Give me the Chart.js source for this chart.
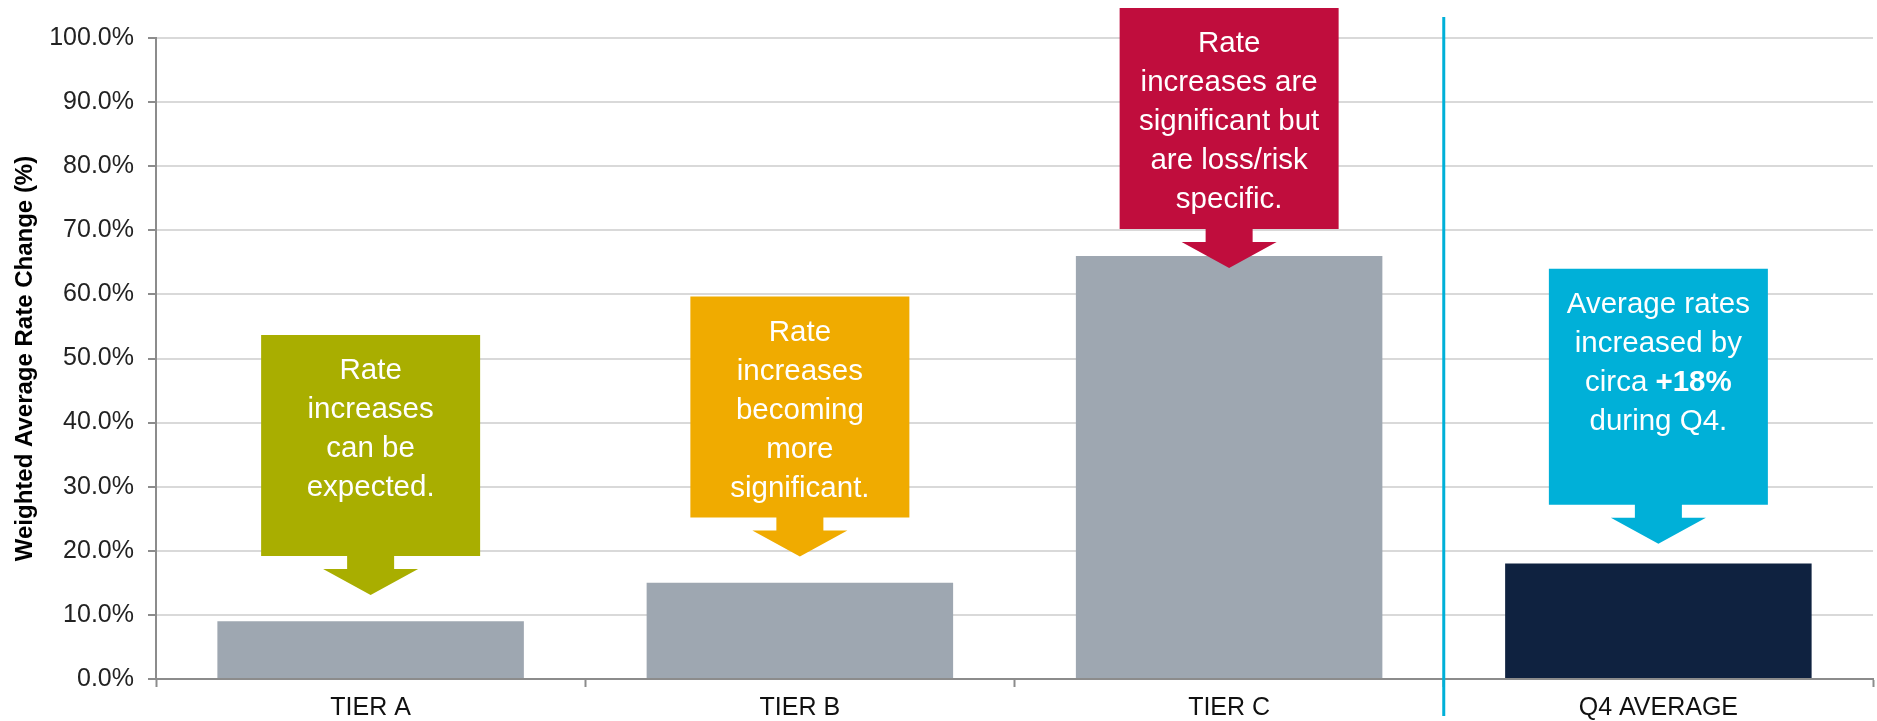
<!DOCTYPE html>
<html>
<head>
<meta charset="utf-8">
<script src="https://cdn.jsdelivr.net/npm/chart.js@4/dist/chart.umd.min.js"></script>
<style>
  html, body { margin: 0; padding: 0; background: #fff; }
  canvas { display: block; }
</style>
</head>
<body>
<canvas id="chart" width="1877" height="721"></canvas>
<script>
// Categories and weighted average rate change (%) per tier
const categories = ['TIER A', 'TIER B', 'TIER C', 'Q4 AVERAGE'];
const rateChange = [9, 15, 66, 18];
const barColors = ['#9ea7b1', '#9ea7b1', '#9ea7b1', '#0f2240'];

// Y axis range (percent)
const yMin = 0;
const yMax = 100;
const yStep = 10;

// Callout texts (one list of lines per category; each line is a list of segments)
const calloutLines = [
  [[{ t: 'Rate' }], [{ t: 'increases' }], [{ t: 'can be' }], [{ t: 'expected.' }]],
  [[{ t: 'Rate' }], [{ t: 'increases' }], [{ t: 'becoming' }], [{ t: 'more' }], [{ t: 'significant.' }]],
  [[{ t: 'Rate' }], [{ t: 'increases are' }], [{ t: 'significant but' }], [{ t: 'are loss/risk' }], [{ t: 'specific.' }]],
  [[{ t: 'Average rates' }], [{ t: 'increased by' }], [{ t: 'circa ' }, { t: '+' + rateChange[3] + '%', bold: true }], [{ t: 'during Q4.' }]]
];
// Arrow tip anchor of each callout, in axis units (%)
const calloutTips = [13.1, 19.1, 64.1, 21.1];
const calloutFill = ['#a9ae00', '#f0ab00', '#c00d3d', '#00b0d8'];
const calloutBoxHeight = [221, 221, 221, 236];

const FONT = "'Liberation Sans', Arial, Helvetica, sans-serif";

const calloutPlugin = {
  id: 'callouts',
  afterDatasetsDraw(chart) {
    const { ctx, scales: { x, y } } = chart;
    const boxW = 219, stemW = 47, stemH = 13, headW = 95, headH = 26;
    ctx.save();
    calloutLines.forEach((lines, i) => {
      const cx = x.getPixelForValue(i);
      const tip = y.getPixelForValue(calloutTips[i]);
      const stemBottom = tip - headH;
      const boxBottom = stemBottom - stemH;
      const boxTop = boxBottom - calloutBoxHeight[i];

      ctx.fillStyle = calloutFill[i];
      ctx.beginPath();
      ctx.moveTo(cx - boxW / 2, boxTop);
      ctx.lineTo(cx + boxW / 2, boxTop);
      ctx.lineTo(cx + boxW / 2, boxBottom);
      ctx.lineTo(cx + stemW / 2, boxBottom);
      ctx.lineTo(cx + stemW / 2, stemBottom);
      ctx.lineTo(cx + headW / 2, stemBottom);
      ctx.lineTo(cx, tip);
      ctx.lineTo(cx - headW / 2, stemBottom);
      ctx.lineTo(cx - stemW / 2, stemBottom);
      ctx.lineTo(cx - stemW / 2, boxBottom);
      ctx.lineTo(cx - boxW / 2, boxBottom);
      ctx.closePath();
      ctx.fill();

      ctx.fillStyle = '#ffffff';
      ctx.textBaseline = 'middle';
      ctx.textAlign = 'left';
      lines.forEach((segs, j) => {
        const ly = boxTop + 36 + j * 39;
        const widths = segs.map(s => {
          ctx.font = (s.bold ? 'bold ' : '') + '29.5px ' + FONT;
          return ctx.measureText(s.t).width;
        });
        let sx = cx - widths.reduce((a, b) => a + b, 0) / 2;
        segs.forEach((s, k) => {
          ctx.font = (s.bold ? 'bold ' : '') + '29.5px ' + FONT;
          ctx.fillText(s.t, sx, ly);
          sx += widths[k];
        });
      });
    });
    ctx.restore();
  },
  afterDraw(chart) {
    // Separator between the tiers and the quarterly average
    const { ctx, scales: { x } } = chart;
    const sepX = x.getPixelForValue(categories.length - 1.5);
    ctx.save();
    ctx.strokeStyle = '#00b0d8';
    ctx.lineWidth = 3;
    ctx.beginPath();
    ctx.moveTo(sepX, 17);
    ctx.lineTo(sepX, 716);
    ctx.stroke();
    ctx.restore();
  }
};

new Chart(document.getElementById('chart'), {
  type: 'bar',
  data: {
    labels: categories,
    datasets: [{
      data: rateChange,
      backgroundColor: barColors,
      borderWidth: 0,
      categoryPercentage: 1,
      barPercentage: 0.714
    }]
  },
  options: {
    responsive: false,
    devicePixelRatio: 1,
    animation: false,
    layout: { padding: { top: 38, right: 4, bottom: 0, left: 0 } },
    plugins: { legend: { display: false }, tooltip: { enabled: false } },
    scales: {
      x: {
        afterFit: s => { s.height = 42; },
        grid: {
          drawOnChartArea: false,
          drawTicks: true,
          tickLength: 8,
          tickColor: '#8c8c8c',
          tickWidth: 2
        },
        border: { color: '#8c8c8c', width: 2 },
        ticks: {
          color: '#111',
          padding: 6,
          font: { family: FONT, size: 25 }
        }
      },
      y: {
        min: yMin,
        max: yMax,
        afterFit: s => { s.width = 156; },
        grid: {
          color: '#d9d9d9',
          lineWidth: 2,
          drawTicks: true,
          tickLength: 8,
          tickColor: '#8c8c8c',
          tickWidth: 2
        },
        border: { color: '#8c8c8c', width: 2 },
        ticks: {
          stepSize: yStep,
          color: '#222',
          padding: 14,
          font: { family: FONT, size: 25 },
          callback: v => v.toFixed(1) + '%'
        },
        title: {
          display: true,
          text: 'Weighted Average Rate Change (%)',
          color: '#000',
          padding: { top: 11, bottom: 0 },
          font: { family: FONT, size: 24, weight: 'bold' }
        }
      }
    }
  },
  plugins: [calloutPlugin]
});
</script>
</body>
</html>
